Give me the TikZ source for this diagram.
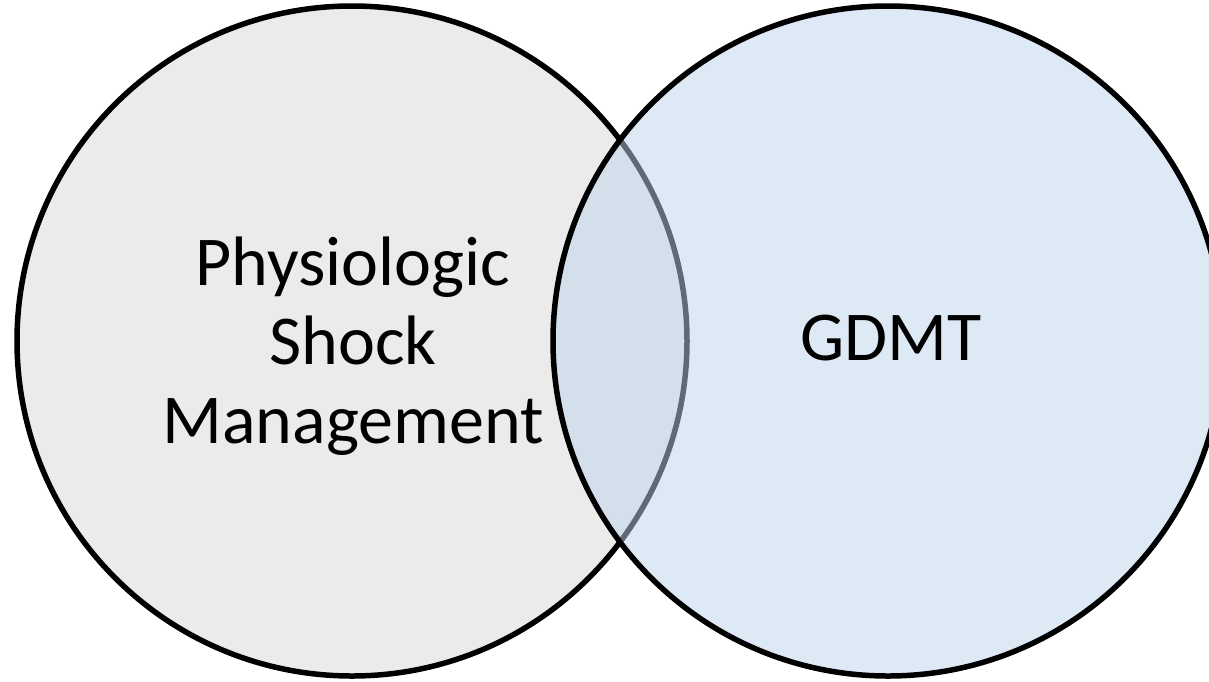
\documentclass[tikz,border=0pt]{standalone}
\usepackage{fontspec}
\setmainfont{Carlito}
\definecolor{leftfill}{RGB}{235,235,235}
\definecolor{rightfill}{RGB}{190,212,238}
\tikzset{
  vennline/.style={line width=5.5pt, draw=black},
  lbl/.style={font=\fontsize{70pt}{79pt}\selectfont, align=center, inner sep=0pt, anchor=base}
}
\begin{document}
\begin{tikzpicture}[x=1pt,y=-1pt]
\useasboundingbox (0,0) rectangle (1209,681);
\coordinate (cl) at (352,341);
\coordinate (cr) at (888,341);
\fill[white] (0,0) rectangle (1209,681);
\begin{scope}
\clip (0,0) rectangle (1209,681);
\draw[vennline, fill=leftfill] (cl) circle[radius=335];
\draw[vennline, fill=rightfill, fill opacity=0.5] (cr) circle[radius=335];
\end{scope}
\node[lbl] (phys) at (353,443) {Physiologic\\Shock\\Management};
\node[lbl] (gdmt) at (891,360) {GDMT};
\end{tikzpicture}
\end{document}
